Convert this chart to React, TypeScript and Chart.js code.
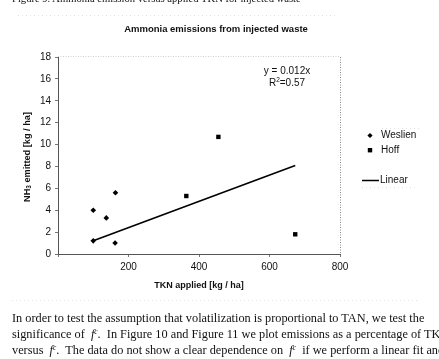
import React, { useEffect, useRef } from "react";
import { Chart, registerables } from "chart.js";

Chart.register(...registerables);

// ---- text ----
const captionText = "Figure 9.  Ammonia emission versus applied TKN for injected waste";
const chartTitle = "Ammonia emissions from injected waste";
const xAxisTitle = "TKN applied [kg / ha]";
const yAxisTitleParts = ["NH", "3", " emitted [kg / ha]"];
const legendLabels = ["Weslien", "Hoff", "Linear"];

// ---- data: TKN applied [kg/ha] vs NH3 emitted [kg/ha] ----
const weslienTkn = [100, 100, 137, 163, 162];
const weslienNh3 = [1.2, 4.0, 3.3, 5.6, 1.0];
const hoffTkn = [364, 455, 673];
const hoffNh3 = [5.3, 10.7, 1.8];

// linear fit through the origin
const fitSlope = 0.012;
const fitR2 = 0.57;

// ---- axes ----
const xTickValues = [200, 400, 600, 800];
const yTickValues = [0, 2, 4, 6, 8, 10, 12, 14, 16, 18];

const SANS = '"Liberation Sans", Arial, sans-serif';
const SERIF = '"Liberation Serif", "Times New Roman", serif';

function drawDiamond(ctx: CanvasRenderingContext2D, x: number, y: number, r: number) {
  ctx.beginPath();
  ctx.moveTo(x, y - r);
  ctx.lineTo(x + r, y);
  ctx.lineTo(x, y + r);
  ctx.lineTo(x - r, y);
  ctx.closePath();
  ctx.fill();
}

const decorPlugin = {
  id: "decor",
  afterDraw(chart: any) {
    const ctx: CanvasRenderingContext2D = chart.ctx;
    const { left, right, top, bottom } = chart.chartArea;
    ctx.save();
    ctx.fillStyle = "#111";

    // chart title
    ctx.font = `bold 9.5px ${SANS}`;
    ctx.textAlign = "center";
    ctx.textBaseline = "middle";
    ctx.fillText(chartTitle, 216, 29);

    // x axis title
    ctx.font = `bold 9px ${SANS}`;
    ctx.fillText(xAxisTitle, (left + right) / 2, 286);

    // y axis title with subscript
    ctx.save();
    ctx.translate(27, 157);
    ctx.rotate(-Math.PI / 2);
    const mainFont = `bold 9.2px ${SANS}`;
    const subFont = `bold 6.5px ${SANS}`;
    ctx.font = mainFont;
    const w0 = ctx.measureText(yAxisTitleParts[0]).width;
    const w2 = ctx.measureText(yAxisTitleParts[2]).width;
    ctx.font = subFont;
    const w1 = ctx.measureText(yAxisTitleParts[1]).width;
    let cx = -(w0 + w1 + w2) / 2;
    ctx.textAlign = "left";
    ctx.font = mainFont;
    ctx.fillText(yAxisTitleParts[0], cx, 0);
    cx += w0;
    ctx.font = subFont;
    ctx.fillText(yAxisTitleParts[1], cx, 2.5);
    cx += w1;
    ctx.font = mainFont;
    ctx.fillText(yAxisTitleParts[2], cx, 0);
    ctx.restore();

    // fit equation
    ctx.font = `10px ${SANS}`;
    ctx.textAlign = "center";
    ctx.fillText(`y = ${fitSlope}x`, 287, 71);
    const rA = "R";
    const rB = "2";
    const rC = `=${fitR2}`;
    ctx.font = `10px ${SANS}`;
    const wa = ctx.measureText(rA).width;
    const wc = ctx.measureText(rC).width;
    ctx.font = `6.5px ${SANS}`;
    const wb = ctx.measureText(rB).width;
    let rx = 287 - (wa + wb + wc) / 2;
    ctx.textAlign = "left";
    ctx.font = `10px ${SANS}`;
    ctx.fillText(rA, rx, 83.5);
    rx += wa;
    ctx.font = `6.5px ${SANS}`;
    ctx.fillText(rB, rx, 80.5);
    rx += wb;
    ctx.font = `10px ${SANS}`;
    ctx.fillText(rC, rx, 83.5);

    // legend
    ctx.font = `10px ${SANS}`;
    ctx.textAlign = "left";
    ctx.fillStyle = "#000";
    drawDiamond(ctx, 370, 135.5, 2.6);
    ctx.fillRect(367.8, 148, 4.4, 4.4);
    ctx.strokeStyle = "#000";
    ctx.lineWidth = 1.5;
    ctx.beginPath();
    ctx.moveTo(362, 180.5);
    ctx.lineTo(379, 180.5);
    ctx.stroke();
    ctx.fillStyle = "#111";
    ctx.fillText(legendLabels[0], 381, 135.5);
    ctx.fillText(legendLabels[1], 381, 150);
    ctx.fillText(legendLabels[2], 380, 180.5);

    // dotted plot-area frame (top and right)
    ctx.lineWidth = 1;
    ctx.strokeStyle = "#888";
    ctx.setLineDash([1, 1.5]);
    ctx.beginPath();
    ctx.moveTo(right + 0.5, top);
    ctx.lineTo(right + 0.5, bottom);
    ctx.stroke();
    ctx.strokeStyle = "#cfcfcf";
    ctx.beginPath();
    ctx.moveTo(left, top - 0.5);
    ctx.lineTo(right, top - 0.5);
    ctx.stroke();

    // faint outer chart frame and legend box
    ctx.strokeStyle = "#e2e2e2";
    ctx.setLineDash([1, 3]);
    ctx.beginPath();
    ctx.moveTo(18, 15.5);
    ctx.lineTo(335, 15.5);
    ctx.moveTo(12, 300.5);
    ctx.lineTo(420, 300.5);
    ctx.moveTo(382, 128.5);
    ctx.lineTo(422, 128.5);
    ctx.moveTo(362, 187.5);
    ctx.lineTo(415, 187.5);
    ctx.stroke();
    ctx.restore();
  },
};

function FitExp() {
  return (
    <span style={{ fontStyle: "italic" }}>
      f<sup style={{ fontSize: "0.6em", verticalAlign: "0.6em", lineHeight: 0 }}>c</sup>
    </span>
  );
}

export default function App() {
  const canvasRef = useRef<HTMLCanvasElement | null>(null);

  useEffect(() => {
    const canvas = canvasRef.current;
    if (!canvas) return;
    const allTkn = [...weslienTkn, ...hoffTkn];
    const xMin = Math.min(...allTkn);
    const xMax = Math.max(...allTkn);

    const tickFont = { family: SANS, size: 10 };

    const chart = new Chart(canvas, {
      type: "scatter",
      data: {
        datasets: [
          {
            label: legendLabels[0],
            data: weslienTkn.map((x, i) => ({ x, y: weslienNh3[i] })),
            pointStyle: "rectRot",
            pointRadius: 2.8,
            backgroundColor: "#000",
            borderColor: "#000",
            borderWidth: 0,
          },
          {
            label: legendLabels[1],
            data: hoffTkn.map((x, i) => ({ x, y: hoffNh3[i] })),
            pointStyle: "rect",
            pointRadius: 3.1,
            backgroundColor: "#000",
            borderColor: "#000",
            borderWidth: 0,
          },
          {
            label: legendLabels[2],
            type: "line",
            data: [
              { x: xMin, y: fitSlope * xMin },
              { x: xMax, y: fitSlope * xMax },
            ],
            borderColor: "#000",
            borderWidth: 1.6,
            pointRadius: 0,
            fill: false,
          } as any,
        ],
      },
      options: {
        responsive: false,
        animation: false,
        layout: { padding: { left: 0, top: 57, right: 99, bottom: 85 } },
        plugins: {
          legend: { display: false },
          tooltip: { enabled: false },
          title: { display: false },
        },
        scales: {
          x: {
            type: "linear",
            min: 0,
            max: 800,
            afterFit: (s: any) => {
              s.height = 20;
            },
            afterBuildTicks: (s: any) => {
              s.ticks = [0, ...xTickValues].map((v) => ({ value: v }));
            },
            ticks: {
              callback: (v: any) => (xTickValues.includes(Number(v)) ? String(v) : ""),
              color: "#111",
              font: tickFont,
              padding: 4,
              maxRotation: 0,
            },
            grid: { display: true, drawOnChartArea: false, tickLength: 3, color: "#777" },
            border: { color: "#555", width: 1 },
          },
          y: {
            min: 0,
            max: 18,
            afterFit: (s: any) => {
              s.width = 58;
            },
            afterBuildTicks: (s: any) => {
              s.ticks = yTickValues.map((v) => ({ value: v }));
            },
            ticks: {
              color: "#111",
              font: tickFont,
              padding: 4,
            },
            grid: { display: true, drawOnChartArea: false, tickLength: 3, color: "#777" },
            border: { color: "#555", width: 1 },
          },
        },
      },
      plugins: [decorPlugin],
    });
    return () => chart.destroy();
  }, []);

  const paraStyle: React.CSSProperties = {
    position: "absolute",
    left: 12,
    whiteSpace: "nowrap",
    fontFamily: SERIF,
    fontSize: 12.3,
    lineHeight: "16px",
    color: "#111",
  };

  return (
    <div
      style={{
        position: "absolute",
        left: 0,
        top: 0,
        width: 439,
        height: 359,
        overflow: "hidden",
        background: "#fff",
      }}
    >
      <canvas ref={canvasRef} width={439} height={359} style={{ display: "block" }} />
      <div style={{ ...paraStyle, top: -7, fontSize: 10.6, lineHeight: "11px" }}>{captionText}</div>
      <div style={{ ...paraStyle, top: 310 }}>
        In order to test the assumption that volatilization is proportional to TAN, we test the
      </div>
      <div style={{ ...paraStyle, top: 326 }}>
        significance of&nbsp; <FitExp />.&nbsp; In Figure 10 and Figure 11 we plot emissions as a percentage of TKN
      </div>
      <div style={{ ...paraStyle, top: 342 }}>
        versus&nbsp; <FitExp />.&nbsp; The data do not show a clear dependence on&nbsp; <FitExp />&nbsp; if we perform a linear fit and
      </div>
    </div>
  );
}
